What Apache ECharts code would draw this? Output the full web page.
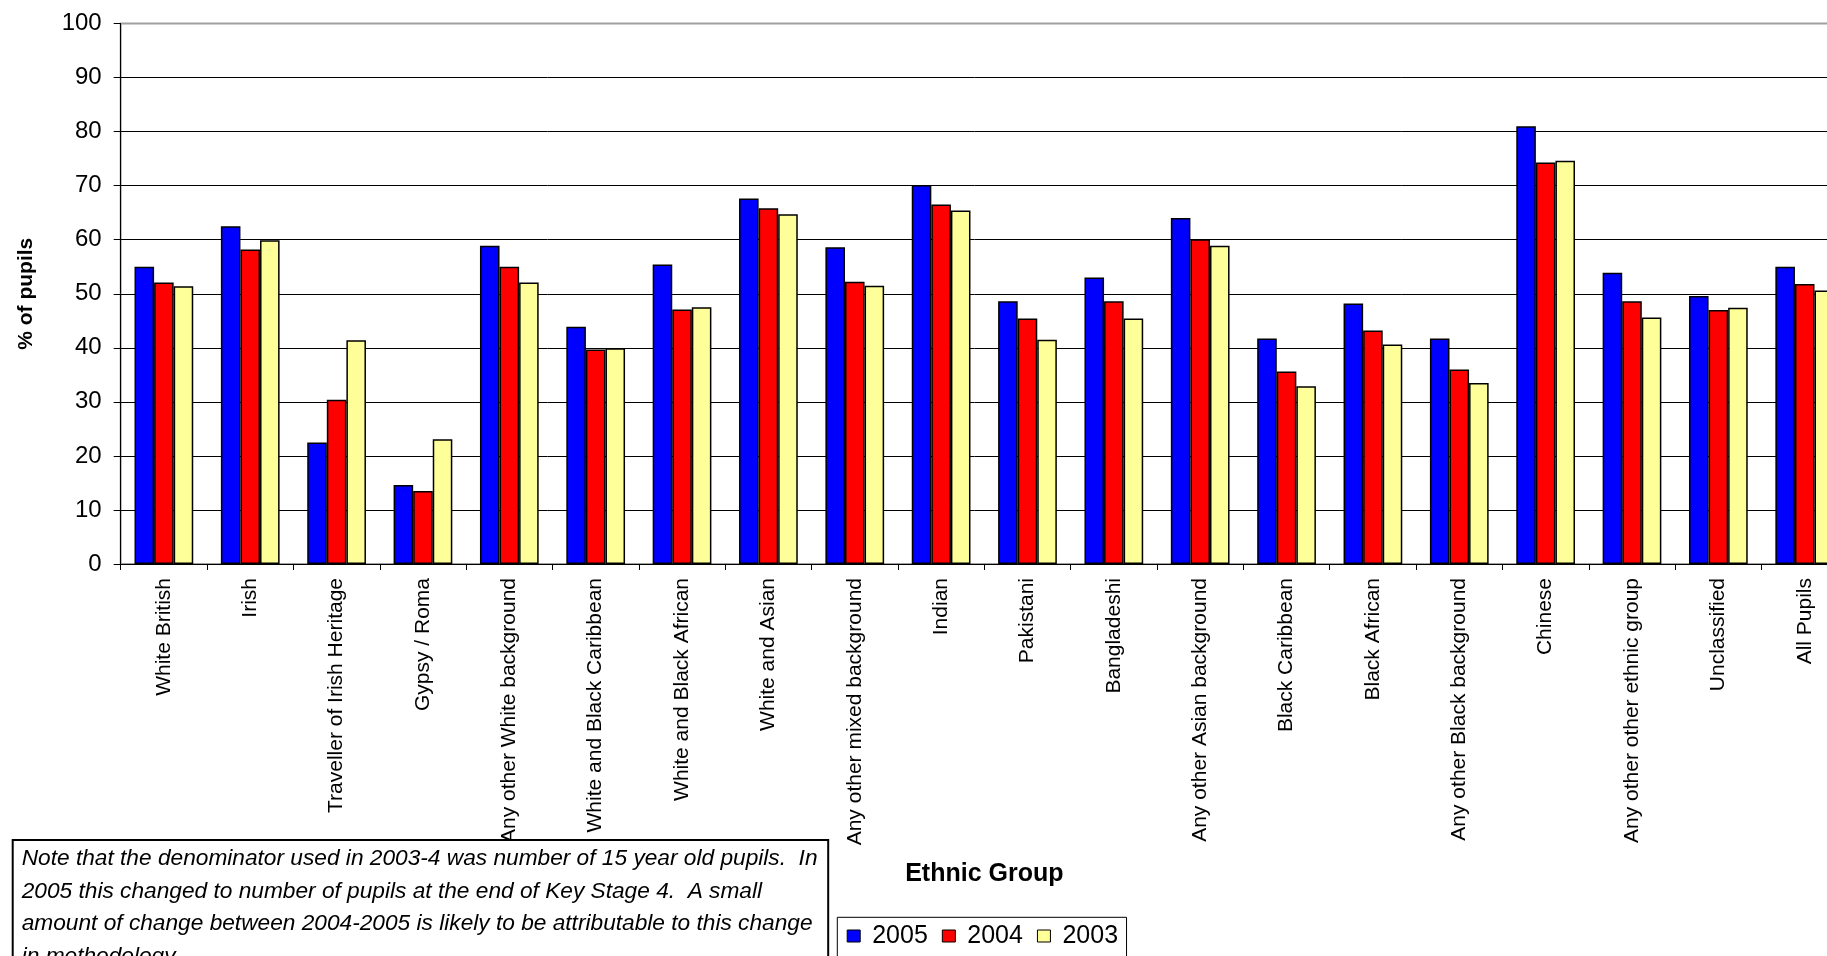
<!DOCTYPE html>
<html>
<head>
<meta charset="utf-8">
<script src="https://cdn.jsdelivr.net/npm/echarts@6/dist/echarts.min.js"></script>
<style>
  html, body { margin: 0; padding: 0; background: #fff; }
  #chart { width: 1827px; height: 956px; }
</style>
</head>
<body>
<div id="chart"></div>
<script>
// Ethnic groups along the category axis
const categories = [
  'White British', 'Irish', 'Traveller of Irish Heritage', 'Gypsy / Roma',
  'Any other White background', 'White and Black Caribbean', 'White and Black African',
  'White and Asian', 'Any other mixed background', 'Indian', 'Pakistani', 'Bangladeshi',
  'Any other Asian background', 'Black Caribbean', 'Black African',
  'Any other Black background', 'Chinese', 'Any other other ethnic group',
  'Unclassified', 'All Pupils'
];

// % of pupils per year
const values2005 = [55.0, 62.5, 22.5, 14.6, 58.9, 43.9, 55.4, 67.6, 58.6, 70.1, 48.6, 53.0, 64.0, 41.7, 48.2, 41.7, 81.0, 53.9, 49.6, 55.0];
const values2004 = [52.1, 58.2, 30.4, 13.5, 55.0, 39.7, 47.1, 65.8, 52.2, 66.5, 45.4, 48.6, 60.1, 35.6, 43.2, 36.0, 74.3, 48.6, 47.0, 51.8];
const values2003 = [51.4, 59.9, 41.4, 23.1, 52.1, 39.9, 47.5, 64.7, 51.5, 65.4, 41.5, 45.4, 58.9, 32.9, 40.6, 33.5, 74.6, 45.6, 47.4, 50.6];

const seriesNames = ['2005', '2004', '2003'];
const seriesColors = ['#0000FF', '#FF0000', '#FFFF99'];

const noteLines = [
  'Note that the denominator used in 2003-4 was number of 15 year old pupils.  In',
  '2005 this changed to number of pupils at the end of Key Stage 4.  A small',
  'amount of change between 2004-2005 is likely to be attributable to this change',
  'in methodology.'
];

const FONT = '"Liberation Sans", Arial, Helvetica, sans-serif';

const chart = echarts.init(document.getElementById('chart'), null, { renderer: 'canvas' });

const barSeries = [values2005, values2004, values2003].map((vals, i) => ({
  name: seriesNames[i],
  type: 'bar',
  data: vals,
  barGap: '0%',
  barCategoryGap: '32%',
  itemStyle: { color: seriesColors[i], borderColor: '#000', borderWidth: 1.5 },
  emphasis: { disabled: true },
  animation: false
}));

chart.setOption({
  backgroundColor: '#fff',
  animation: false,
  grid: {
    left: 120.7, top: 23.5, width: 1727.2, height: 540.5,
    containLabel: false, outerBoundsMode: 'none',
    show: true, borderColor: '#a0a0a0', borderWidth: 2, backgroundColor: 'transparent'
  },
  xAxis: {
    type: 'category',
    data: categories,
    name: 'Ethnic Group',
    nameLocation: 'middle',
    nameGap: 298,
    nameTextStyle: { fontFamily: FONT, fontSize: 25, fontWeight: 'bold', color: '#000' },
    axisLine: { show: true, lineStyle: { color: '#000', width: 1 } },
    axisTick: { show: true, length: 6, lineStyle: { color: '#000' } },
    axisLabel: {
      rotate: 90, interval: 0, margin: 14,
      fontFamily: FONT, fontSize: 21, color: '#000'
    },
    splitLine: { show: false }
  },
  yAxis: {
    type: 'value',
    min: 0, max: 100, interval: 10,
    name: '% of pupils',
    nameLocation: 'middle',
    nameGap: 84,
    nameTextStyle: { fontFamily: FONT, fontSize: 21, fontWeight: 'bold', color: '#000' },
    axisLine: { show: true, lineStyle: { color: '#000', width: 1 } },
    axisTick: { show: true, length: 7, lineStyle: { color: '#000' } },
    axisLabel: { margin: 19, fontFamily: FONT, fontSize: 24, color: '#000' },
    splitLine: { show: true, showMaxLine: false, lineStyle: { color: '#000', width: 1 } }
  },
  legend: {
    data: seriesNames,
    left: 837.3, top: 917.3,
    orient: 'horizontal',
    icon: 'rect',
    itemWidth: 13, itemHeight: 12, itemGap: 14,
    padding: [6.2, 8.5, 40, 9.4],
    borderColor: '#000', borderWidth: 1,
    backgroundColor: '#fff',
    selectedMode: false,
    itemStyle: { borderColor: '#000', borderWidth: 1 },
    textStyle: { fontFamily: FONT, fontSize: 25, color: '#000', padding: [0, 0, 0, 7] }
  },
  graphic: [
    {
      type: 'rect', z: 100,
      shape: { x: 12.7, y: 840, width: 815.5, height: 200 },
      style: { fill: '#fff', stroke: '#000', lineWidth: 2 }
    },
    {
      type: 'text', z: 101,
      x: 21.7, y: 842.5,
      style: {
        text: noteLines.join('\n'),
        font: 'italic 22.7px ' + FONT,
        fill: '#000',
        lineHeight: 32.5,
        verticalAlign: 'top',
        align: 'left'
      }
    }
  ],
  series: barSeries
});
</script>
</body>
</html>
